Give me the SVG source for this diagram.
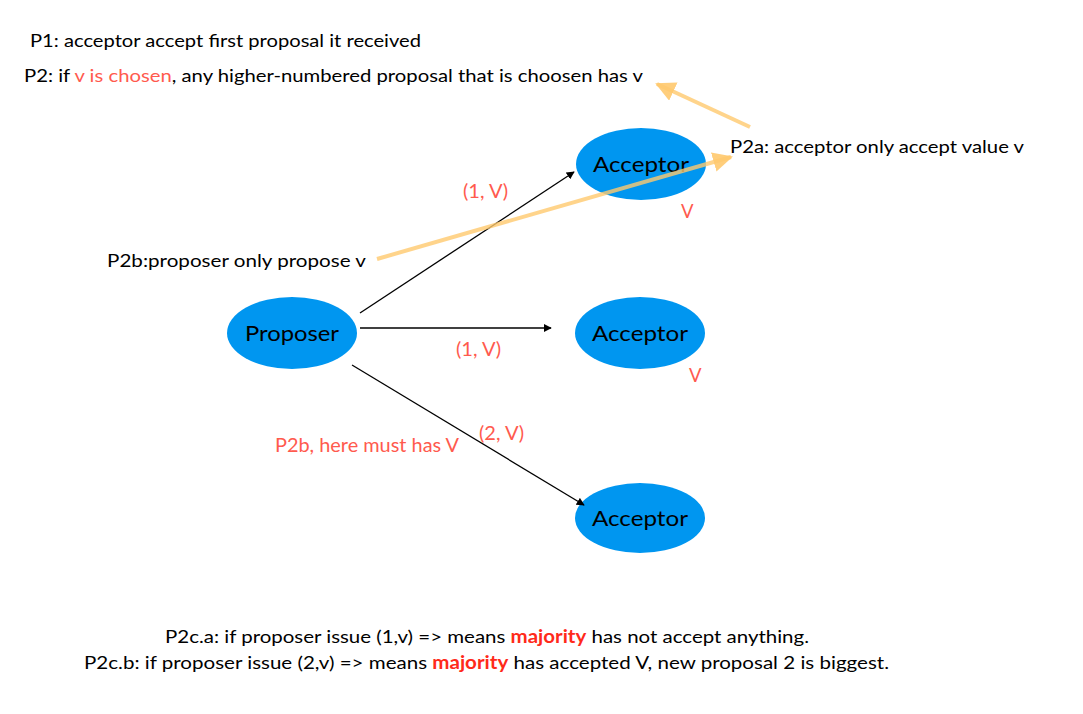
<svg xmlns="http://www.w3.org/2000/svg" width="1083" height="714" viewBox="0 0 1083 714">
<defs>
<style>
text{font-family:Lato,"Noto Sans","Liberation Sans",sans-serif;}
.t{font-size:18px;fill:#000;}
.r{font-size:18.5px;fill:#FF5A4E;}
.node{fill:#0096F0;}
.nl{font-size:22px;fill:#000;text-anchor:middle;}
.edge{stroke:#000;stroke-width:1.3;fill:none;marker-end:url(#ah);}
.hint{stroke:#FFC96E;stroke-opacity:0.8;stroke-width:4;fill:none;marker-end:url(#oh);}
.maj{fill:#FF2A1A;font-weight:bold;}
</style>
<marker id="ah" viewBox="0 0 10 10" refX="9" refY="5" markerWidth="8" markerHeight="8" markerUnits="userSpaceOnUse" orient="auto"><path d="M0,0 L10,5 L0,10 z" fill="#000"/></marker>
<marker id="oh" viewBox="0 0 10 10" refX="9" refY="5" markerWidth="5" markerHeight="5" orient="auto"><path d="M0,0 L10,5 L0,10 z" fill="#FFC96E" fill-opacity="0.9"/></marker>
</defs>
<rect width="1083" height="714" fill="#fff"/>
<g id="proposer"><ellipse class="node" cx="292" cy="333" rx="65" ry="36"/><text class="nl" x="292" y="341" textLength="94" lengthAdjust="spacingAndGlyphs">Proposer</text></g>
<g id="acceptor1"><ellipse class="node" cx="641" cy="164" rx="65" ry="36"/><text class="nl" x="641" y="172" textLength="96" lengthAdjust="spacingAndGlyphs">Acceptor</text></g>
<g id="acceptor2"><ellipse class="node" cx="640" cy="333" rx="65" ry="36"/><text class="nl" x="640" y="341" textLength="96" lengthAdjust="spacingAndGlyphs">Acceptor</text></g>
<g id="acceptor3"><ellipse class="node" cx="640" cy="518" rx="65" ry="35"/><text class="nl" x="640" y="526" textLength="96" lengthAdjust="spacingAndGlyphs">Acceptor</text></g>
<g id="connectors">
<line class="edge" x1="360" y1="313" x2="574" y2="172"/>
<line class="edge" x1="360" y1="328" x2="551" y2="328"/>
<line class="edge" x1="352" y1="365" x2="584" y2="505"/>
<line class="hint" x1="377" y1="259" x2="731" y2="157"/>
<line class="hint" x1="750" y1="127" x2="657" y2="84"/>
</g>
<g id="labels">
<text class="t" x="30" y="47" textLength="391" lengthAdjust="spacingAndGlyphs">P1: acceptor accept first proposal it received</text>
<text class="t" x="24" y="82" textLength="619" lengthAdjust="spacingAndGlyphs">P2: if <tspan fill="#FF5A4E">v is chosen</tspan>, any higher-numbered proposal that is choosen has v</text>
<text class="t" x="730" y="153" textLength="294" lengthAdjust="spacingAndGlyphs">P2a: acceptor only accept value v</text>
<text class="r" x="463" y="198" textLength="45" lengthAdjust="spacingAndGlyphs">(1, V)</text>
<text class="r" x="681" y="218">V</text>
<text class="t" x="107" y="267" textLength="259" lengthAdjust="spacingAndGlyphs">P2b:proposer only propose v</text>
<text class="r" x="456" y="356" textLength="45" lengthAdjust="spacingAndGlyphs">(1, V)</text>
<text class="r" x="689" y="382">V</text>
<text class="r" x="479" y="440" textLength="45" lengthAdjust="spacingAndGlyphs">(2, V)</text>
<text class="r" x="275" y="452" textLength="184" lengthAdjust="spacingAndGlyphs">P2b, here must has V</text>
<text class="t" x="165" y="643" textLength="644" lengthAdjust="spacingAndGlyphs">P2c.a: if proposer issue (1,v) =&gt; means <tspan class="maj">majority</tspan> has not accept anything.</text>
<text class="t" x="84" y="669" textLength="805" lengthAdjust="spacingAndGlyphs">P2c.b: if proposer issue (2,v) =&gt; means <tspan class="maj">majority</tspan> has accepted V, new proposal 2 is biggest.</text>
</g>
</svg>
